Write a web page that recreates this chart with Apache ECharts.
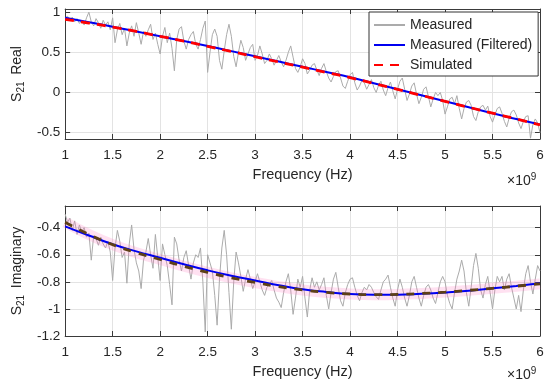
<!DOCTYPE html>
<html><head><meta charset="utf-8">
<script src="https://cdn.jsdelivr.net/npm/echarts@6/dist/echarts.min.js"></script>
<style>html,body{margin:0;padding:0;background:#fff}#c{width:550px;height:384px}</style>
</head><body><div id="c"></div>
<script>
// ---- data (frequency in units of 1e9 Hz) ----
const xTickValues = [1, 1.5, 2, 2.5, 3, 3.5, 4, 4.5, 5, 5.5, 6];
const realTicks = [-0.5, 0, 0.5, 1];
const imagTicks = [-1.2, -1, -0.8, -0.6, -0.4];

// measured (raw) samples, evenly spaced from 1 to 6 (x1e9 Hz)
const measuredReal = [
0.93,0.95,0.90,0.94,0.88,0.92,0.86,0.90,0.84,0.93,
1.00,0.88,0.83,0.92,0.87,0.80,0.90,0.84,0.88,0.78,
0.93,0.62,0.78,0.86,0.72,0.80,0.58,0.74,0.83,0.70,
0.87,0.74,0.60,0.76,0.70,0.78,0.85,0.66,0.74,0.60,
0.48,0.70,0.81,0.62,0.74,0.55,0.27,0.66,0.79,0.82,
0.64,0.54,0.66,0.72,0.76,0.60,0.54,0.66,0.80,0.89,
0.25,0.50,0.72,0.79,0.70,0.40,0.29,0.52,0.72,0.85,
0.70,0.45,0.32,0.50,0.65,0.56,0.40,0.48,0.56,0.60,
0.40,0.46,0.58,0.48,0.36,0.40,0.48,0.42,0.34,0.40,
0.46,0.38,0.32,0.40,0.50,0.58,0.44,0.30,0.25,0.32,
0.42,0.36,0.23,0.28,0.34,0.36,0.28,0.21,0.30,0.36,
0.26,0.18,0.13,0.20,0.26,0.27,0.18,0.08,0.05,0.14,
0.22,0.25,0.12,0.03,0.08,0.15,0.12,0.04,0.10,0.16,
0.06,0.00,0.09,0.14,0.03,-0.04,0.06,0.13,0.02,-0.08,
0.04,0.14,0.18,0.04,-0.10,-0.02,0.08,0.12,-0.02,-0.14,
-0.06,0.04,0.07,-0.05,-0.18,-0.08,0.00,-0.04,0.00,-0.10,
-0.27,-0.18,-0.08,-0.06,-0.14,-0.04,-0.20,-0.33,-0.20,-0.12,
-0.10,-0.16,-0.30,-0.35,-0.24,-0.18,-0.16,-0.22,-0.17,-0.30,
-0.37,-0.28,-0.20,-0.18,-0.26,-0.36,-0.43,-0.32,-0.24,-0.22,
-0.28,-0.38,-0.45,-0.36,-0.30,-0.29,-0.57,-0.40,-0.33,-0.38,
-0.50
];
const measuredImag = [
-0.30,-0.36,-0.33,-0.42,-0.35,-0.45,-0.38,-0.43,-0.40,-0.47,
-0.44,-0.64,-0.46,-0.48,-0.53,-0.47,-0.52,-0.55,-0.50,-0.58,
-0.79,-0.55,-0.42,-0.50,-0.62,-0.58,-0.81,-0.52,-0.38,-0.56,
-0.66,-0.72,-0.85,-0.64,-0.58,-0.48,-0.60,-0.70,-0.45,-0.62,
-0.79,-0.52,-0.60,-0.68,-0.82,-0.97,-0.47,-0.52,-0.64,-0.72,
-0.62,-0.57,-0.68,-0.78,-0.66,-0.60,-0.62,-0.55,-0.80,-1.17,
-0.60,-0.66,-0.72,-0.90,-1.12,-0.78,-0.55,-0.42,-0.60,-0.88,
-1.15,-0.80,-0.58,-0.66,-0.76,-0.87,-0.78,-0.71,-0.78,-0.85,
-0.80,-0.74,-0.80,-0.86,-0.90,-0.84,-0.82,-0.79,-0.86,-0.92,
-0.95,-0.99,-0.88,-0.80,-0.74,-0.86,-1.04,-0.92,-0.78,-0.84,
-0.76,-0.92,-1.06,-0.86,-0.77,-0.84,-0.80,-0.86,-0.82,-0.77,
-0.90,-1.00,-0.88,-0.78,-0.73,-0.84,-0.94,-0.98,-0.88,-0.82,
-0.78,-0.77,-0.84,-0.90,-0.94,-0.88,-0.84,-0.86,-0.82,-0.84,
-0.88,-0.91,-0.93,-0.86,-0.80,-0.78,-0.75,-0.84,-0.92,-0.98,
-0.86,-0.78,-0.84,-0.92,-0.98,-0.90,-0.80,-0.76,-0.84,-0.92,
-0.98,-0.90,-0.84,-0.82,-0.86,-0.92,-0.96,-0.88,-0.80,-0.76,
-0.80,-0.90,-0.96,-1.00,-0.88,-0.78,-0.72,-0.64,-0.72,-0.88,
-0.98,-0.84,-0.68,-0.59,-0.70,-0.86,-0.92,-0.82,-0.76,-0.88,
-1.00,-0.86,-0.76,-0.80,-0.76,-0.86,-0.78,-0.74,-0.84,-0.92,
-1.00,-0.90,-1.02,-0.86,-0.74,-0.68,-0.80,-0.89,-0.78,-0.68,
-0.72
];

// smooth curves sampled every 0.25 (x1e9 Hz)
const curveFreq = [1,1.25,1.5,1.75,2,2.25,2.5,2.75,3,3.25,3.5,3.75,4,4.25,4.5,4.75,5,5.25,5.5,5.75,6];
const filteredReal = [0.930,0.875,0.820,0.760,0.700,0.640,0.580,0.515,0.450,0.385,0.320,0.255,0.190,0.115,0.040,-0.035,-0.110,-0.185,-0.260,-0.330,-0.400];
const simulatedReal = [0.910,0.865,0.815,0.760,0.700,0.640,0.575,0.510,0.445,0.380,0.315,0.250,0.185,0.112,0.038,-0.036,-0.110,-0.185,-0.258,-0.330,-0.405];
const filteredImag = [-0.390,-0.458,-0.522,-0.575,-0.622,-0.670,-0.715,-0.755,-0.790,-0.825,-0.855,-0.875,-0.890,-0.895,-0.895,-0.888,-0.878,-0.865,-0.848,-0.830,-0.810];
const simulatedImag = [-0.360,-0.450,-0.525,-0.585,-0.635,-0.685,-0.730,-0.770,-0.805,-0.835,-0.860,-0.878,-0.890,-0.895,-0.893,-0.886,-0.876,-0.863,-0.848,-0.832,-0.815];

// ---- build ----
const measFreq = measuredReal.map((_, i) => 1 + 5 * i / (measuredReal.length - 1));
const measFreqI = measuredImag.map((_, i) => 1 + 5 * i / (measuredImag.length - 1));
const pairs = (xs, ys) => ys.map((v, i) => [xs[i], v]);

const FONT = 'Liberation Sans, Arial, Helvetica, sans-serif';
const TXT = '#262626';
const AX = '#3a3a3a';

function xAxisPair(gi) {
  const base = {
    gridIndex: gi, type: 'value', min: 1, max: 6, interval: 0.5,
    axisLine: { show: true, onZero: false, lineStyle: { color: AX, width: 1 } },
    axisTick: { show: true, inside: true, length: 5, lineStyle: { color: AX } },
  };
  return [
    Object.assign({}, base, {
      position: 'bottom',
      axisLabel: { show: true, color: TXT, fontSize: 13.5, fontFamily: FONT, margin: 9 },
      splitLine: { show: true, lineStyle: { color: '#e3e3e3', width: 1 } },
      name: 'Frequency (Hz)', nameLocation: 'middle', nameGap: 28,
      nameTextStyle: { color: TXT, fontSize: 14.5, fontFamily: FONT }
    }),
    Object.assign({}, base, {
      position: 'top', axisLabel: { show: false }, splitLine: { show: false }
    })
  ];
}
function yAxisPair(gi, min, max, ticks, label) {
  const base = {
    gridIndex: gi, type: 'value', min: min, max: max,
    axisLine: { show: true, onZero: false, lineStyle: { color: AX, width: 1 } },
    axisTick: { show: true, inside: true, length: 5, customValues: ticks, lineStyle: { color: AX } },
  };
  return [
    Object.assign({}, base, {
      position: 'left',
      axisLabel: { show: true, color: TXT, fontSize: 13.5, fontFamily: FONT, margin: 5, customValues: ticks },
      splitLine: { show: true, lineStyle: { color: '#e3e3e3', width: 1 } },
      name: '{a|S}{b|21}  {a|' + label + '}', nameLocation: 'middle', nameRotate: 90, nameGap: 35,
      nameTextStyle: {
        color: TXT, fontFamily: FONT,
        rich: {
          a: { fontSize: 14, lineHeight: 14, color: TXT, fontFamily: FONT },
          b: { fontSize: 10, lineHeight: 10, color: TXT, fontFamily: FONT, padding: [8, 0, 0, 0] }
        }
      }
    }),
    Object.assign({}, base, {
      position: 'right', axisLabel: { show: false }, splitLine: { show: false }
    })
  ];
}

const gx = xAxisPair(0).concat(xAxisPair(1));
const gy = yAxisPair(0, -0.58, 1.04, realTicks, 'Real').concat(yAxisPair(1, -1.2, -0.24, imagTicks, 'Imaginary'));

function sup(top) {
  return {
    type: 'text', left: 507, top: top, silent: true,
    style: {
      text: '×10{s|9}', fill: TXT, fontSize: 14, fontFamily: FONT,
      rich: { s: { fontSize: 10, fill: TXT, fontFamily: FONT, padding: [0, 0, 9, 0] } }
    }
  };
}

const option = {
  animation: false,
  backgroundColor: '#fff',
  grid: [
    { left: 59, top: 9, width: 481, height: 130 },
    { left: 59, top: 206, width: 481, height: 130 }
  ],
  xAxis: gx,
  yAxis: gy,
  legend: {
    data: ['Measured', 'Measured (Filtered)', 'Simulated'],
    orient: 'vertical', left: 369, top: 12,
    padding: [6, 6, 4, 4], itemGap: 6, itemWidth: 31, itemHeight: 14,
    backgroundColor: '#fff', borderColor: '#333', borderWidth: 1, borderRadius: 0,
    itemStyle: { opacity: 0 },
    textStyle: { color: TXT, fontSize: 14, fontFamily: FONT },
    selectedMode: false
  },
  graphic: [sup(172), sup(366)],
  series: [
    { name: 'Measured', type: 'line', xAxisIndex: 0, yAxisIndex: 0, data: pairs(measFreq, measuredReal),
      symbol: 'none', lineStyle: { color: '#ababab', width: 1 }, itemStyle: { color: '#ababab' }, z: 2 },
    { name: 'Measured (Filtered)', type: 'line', xAxisIndex: 0, yAxisIndex: 0, data: pairs(curveFreq, filteredReal),
      smooth: true, symbol: 'none', lineStyle: { color: '#0000f0', width: 2 }, itemStyle: { color: '#0000f0' }, z: 3 },
    { name: 'Simulated', type: 'line', xAxisIndex: 0, yAxisIndex: 0, data: pairs(curveFreq, simulatedReal),
      smooth: true, symbol: 'none', lineStyle: { color: '#ff0000', width: 2.8, type: [9, 7] }, itemStyle: { color: '#ff0000' }, z: 4 },

    { name: 'Measured', type: 'line', xAxisIndex: 2, yAxisIndex: 2, data: pairs(measFreqI, measuredImag),
      symbol: 'none', lineStyle: { color: '#ababab', width: 1 }, itemStyle: { color: '#ababab' }, z: 2 },
    { type: 'line', xAxisIndex: 2, yAxisIndex: 2, data: pairs(curveFreq, simulatedImag),
      smooth: true, symbol: 'none', lineStyle: { color: 'rgba(255,120,190,0.22)', width: 11 }, z: 2.5, silent: true },
    { name: 'Measured (Filtered)', type: 'line', xAxisIndex: 2, yAxisIndex: 2, data: pairs(curveFreq, filteredImag),
      smooth: true, symbol: 'none', lineStyle: { color: '#0000f0', width: 2 }, itemStyle: { color: '#0000f0' }, z: 3 },
    { name: 'Simulated', type: 'line', xAxisIndex: 2, yAxisIndex: 2, data: pairs(curveFreq, simulatedImag),
      smooth: true, symbol: 'none', lineStyle: { color: '#5e4016', width: 2.8, type: [8, 8] }, itemStyle: { color: '#ff0000' }, z: 4 }
  ]
};
const chart = echarts.init(document.getElementById('c'), null, { renderer: 'canvas' });
chart.setOption(option);
</script></body></html>
